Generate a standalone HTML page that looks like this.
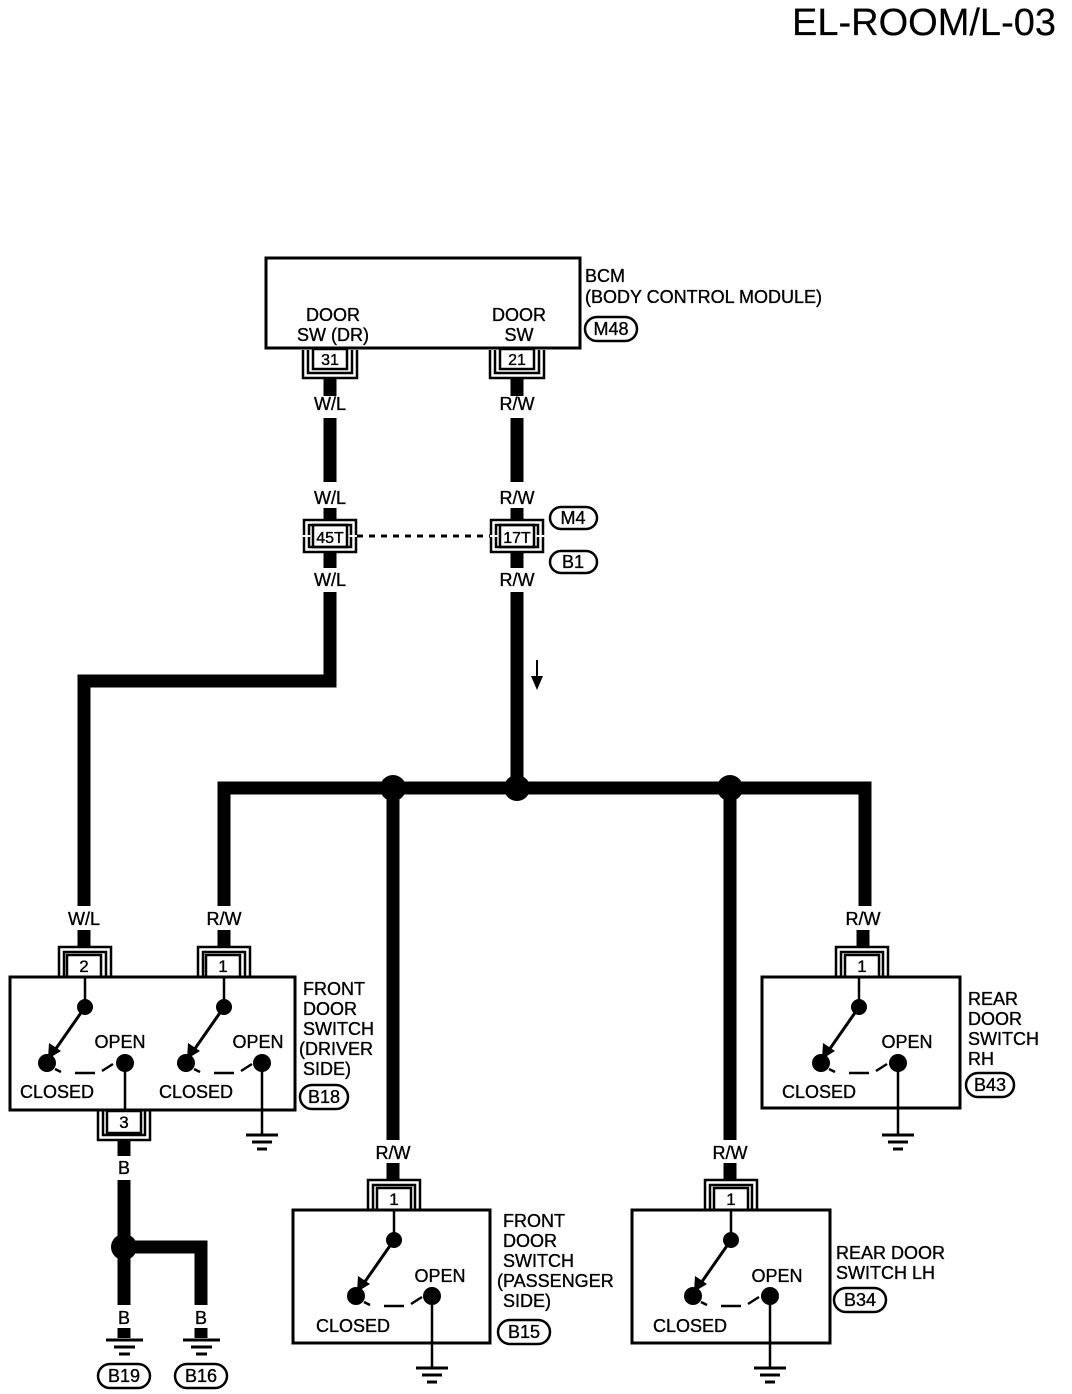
<!DOCTYPE html>
<html><head><style>
html,body{margin:0;padding:0;background:#fff;}
svg{display:block;}
text{font-family:"Liberation Sans",sans-serif;font-size:18px;fill:#000;stroke:#000;stroke-width:0.35;}
.c{text-anchor:middle;}
</style></head><body>
<svg width="1072" height="1394" viewBox="0 0 1072 1394" xmlns="http://www.w3.org/2000/svg">
<text x="1056" y="35" style="font-size:38px;stroke-width:0.2" text-anchor="end">EL-ROOM/L-03</text>

<!-- BCM -->
<rect x="266" y="258" width="314" height="90" fill="none" stroke="#000" stroke-width="3"/>
<text x="333" y="321" class="c">DOOR</text><text x="333" y="341" class="c">SW (DR)</text>
<text x="519" y="321" class="c">DOOR</text><text x="519" y="341" class="c">SW</text>
<text x="585" y="282">BCM</text><text x="585" y="303">(BODY CONTROL MODULE)</text>
<rect x="585" y="317" width="52" height="24" rx="12" fill="none" stroke="#000" stroke-width="2.5"/><text x="611" y="335" class="c">M48</text>

<g fill="none" stroke="#000">
<path d="M303 350 V378 H357 V350 M308 350 V373 H352 V350" stroke-width="2.5"/>
<rect x="313" y="349" width="34" height="20" stroke-width="2.5"/>
<path d="M490 350 V378 H544 V350 M495 350 V373 H539 V350" stroke-width="2.5"/>
<rect x="500" y="349" width="34" height="20" stroke-width="2.5"/>
<path d="M304 535 V520 H356 V535 M309 535 V525 H351 V535 M304 537 V552 H356 V537 M309 537 V547 H351 V537" stroke-width="2.5"/>
<rect x="313" y="525" width="34" height="22" stroke-width="2.5"/>
<path d="M491 535 V520 H543 V535 M496 535 V525 H538 V535 M491 537 V552 H543 V537 M496 537 V547 H538 V537" stroke-width="2.5"/>
<rect x="500" y="525" width="34" height="22" stroke-width="2.5"/>
<line x1="357" y1="536" x2="490" y2="536" stroke-width="3" stroke-dasharray="6,6"/>
</g>
<text x="330" y="365" class="c" style="font-size:16px">31</text>
<text x="517" y="365" class="c" style="font-size:16px">21</text>
<text x="330" y="543" class="c" style="font-size:16px">45T</text>
<text x="517" y="543" class="c" style="font-size:16px">17T</text>
<rect x="550" y="507" width="47" height="22" rx="11" fill="none" stroke="#000" stroke-width="2.5"/><text x="573" y="524" class="c">M4</text>
<rect x="550" y="551" width="47" height="22" rx="11" fill="none" stroke="#000" stroke-width="2.5"/><text x="573" y="568" class="c">B1</text>

<g fill="none" stroke="#000" stroke-width="13">
<path d="M330 378 V396 M330 418 V482 M330 508 V520 M330 552 V568 M330 592 V681 H84 V906 M84 930 V947"/>
<path d="M517 378 V396 M517 418 V482 M517 508 V520 M517 552 V568 M517 592 V788"/>
<path d="M224 906 V788 H865 V906 M224 930 V947 M863 930 V947"/>
<path d="M393 788 V1140 M393 1163 V1180"/>
<path d="M730 788 V1140 M730 1163 V1180"/>
<path d="M124 1140 V1156 M124 1180 V1305 M124 1247 H201 V1305 M124 1328 V1338 M201 1328 V1338"/>
</g>
<g fill="#000">
<circle cx="393" cy="788" r="13"/><circle cx="517" cy="788" r="13"/><circle cx="730" cy="788" r="13"/><circle cx="124" cy="1247" r="13"/>
<line x1="537" y1="660" x2="537" y2="680" stroke="#000" stroke-width="2"/>
<polygon points="531,676 543,676 537,690"/>
</g>
<text x="330" y="410" class="c">W/L</text><text x="330" y="504" class="c">W/L</text><text x="330" y="586" class="c">W/L</text>
<text x="517" y="410" class="c">R/W</text><text x="517" y="504" class="c">R/W</text><text x="517" y="586" class="c">R/W</text>
<text x="84" y="925" class="c">W/L</text><text x="224" y="925" class="c">R/W</text><text x="863" y="925" class="c">R/W</text>
<text x="393" y="1159" class="c">R/W</text><text x="730" y="1159" class="c">R/W</text>
<text x="124" y="1174" class="c">B</text><text x="124" y="1324" class="c">B</text><text x="201" y="1324" class="c">B</text>

<g stroke="#000" fill="none">
<path d="M106 1340 H143 M114 1347 H135 M119 1354 H130" stroke-width="3"/>
<path d="M183 1340 H220 M191 1347 H212 M196 1354 H207" stroke-width="3"/>
</g>
<rect x="98" y="1364" width="52" height="24" rx="12" fill="none" stroke="#000" stroke-width="2.5"/><text x="124" y="1382" class="c">B19</text>
<rect x="175" y="1364" width="52" height="24" rx="12" fill="none" stroke="#000" stroke-width="2.5"/><text x="201" y="1382" class="c">B16</text>

<!-- Driver box -->
<g fill="none" stroke="#000" stroke-width="2.5">
<rect x="10" y="977" width="285" height="133" stroke-width="3"/>
<path d="M59 977 V947 H111 V977 M64 977 V952 H106 V977"/><rect x="67" y="955" width="34" height="22"/>
<path d="M198 977 V947 H250 V977 M203 977 V952 H245 V977"/><rect x="206" y="955" width="34" height="22"/>
<path d="M98 1111 V1140 H150 V1111 M103 1111 V1135 H145 V1111"/><rect x="107" y="1111" width="34" height="22"/>
</g>
<text x="84" y="972" class="c" style="font-size:17px">2</text>
<text x="223" y="972" class="c" style="font-size:17px">1</text>
<text x="124" y="1128" class="c" style="font-size:17px">3</text>
<text x="303" y="995">FRONT</text><text x="303" y="1015">DOOR</text><text x="303" y="1035">SWITCH</text><text x="299" y="1055">(DRIVER</text><text x="303" y="1075">SIDE)</text>
<rect x="300" y="1085" width="48" height="24" rx="12" fill="none" stroke="#000" stroke-width="2.5"/><text x="324" y="1103" class="c">B18</text>

<g transform="translate(85,1007)">
<line x1="0" y1="-30" x2="0" y2="0" stroke="#000" stroke-width="2.5"/>
<circle r="8" fill="#000"/>
<line x1="0" y1="0" x2="-30" y2="43" stroke="#000" stroke-width="3"/>
<polygon points="-37,52 -36,36 -24,44" fill="#000"/>
<circle cx="-38" cy="56" r="9" fill="#000"/>
<path d="M-30 62 L-24 65 M-10 66 H10 M17 64 L28 57" stroke="#000" stroke-width="2.5" fill="none"/>
<circle cx="40" cy="56" r="9" fill="#000"/>
<line x1="40" y1="56" x2="40" y2="103" stroke="#000" stroke-width="2.5"/>
<text x="35" y="41" class="c">OPEN</text><text x="-28" y="91" class="c">CLOSED</text>
</g>
<g transform="translate(224,1007)">
<line x1="0" y1="-30" x2="0" y2="0" stroke="#000" stroke-width="2.5"/>
<circle r="8" fill="#000"/>
<line x1="0" y1="0" x2="-30" y2="43" stroke="#000" stroke-width="3"/>
<polygon points="-37,52 -36,36 -24,44" fill="#000"/>
<circle cx="-38" cy="56" r="9" fill="#000"/>
<path d="M-30 62 L-24 65 M-10 66 H10 M17 64 L28 57" stroke="#000" stroke-width="2.5" fill="none"/>
<circle cx="38" cy="56" r="9" fill="#000"/>
<line x1="38" y1="56" x2="38" y2="128" stroke="#000" stroke-width="2.5"/>
<path d="M22 128 H54 M28 135 H48 M33 142 H43" stroke="#000" stroke-width="3"/>
<text x="34" y="41" class="c">OPEN</text><text x="-28" y="91" class="c">CLOSED</text>
</g>

<!-- Rear RH -->
<g fill="none" stroke="#000" stroke-width="2.5">
<rect x="762" y="977" width="198" height="131" stroke-width="3"/>
<path d="M836 977 V947 H888 V977 M841 977 V952 H883 V977"/><rect x="845" y="955" width="34" height="22"/>
</g>
<text x="862" y="972" class="c" style="font-size:17px">1</text>
<text x="968" y="1005">REAR</text><text x="968" y="1025">DOOR</text><text x="968" y="1045">SWITCH</text><text x="968" y="1065">RH</text>
<rect x="966" y="1073" width="48" height="24" rx="12" fill="none" stroke="#000" stroke-width="2.5"/><text x="990" y="1091" class="c">B43</text>
<g transform="translate(859,1007)">
<line x1="0" y1="-30" x2="0" y2="0" stroke="#000" stroke-width="2.5"/>
<circle r="8" fill="#000"/>
<line x1="0" y1="0" x2="-30" y2="43" stroke="#000" stroke-width="3"/>
<polygon points="-37,52 -36,36 -24,44" fill="#000"/>
<circle cx="-38" cy="56" r="9" fill="#000"/>
<path d="M-30 62 L-24 65 M-10 66 H10 M17 64 L28 57" stroke="#000" stroke-width="2.5" fill="none"/>
<circle cx="39" cy="56" r="9" fill="#000"/>
<line x1="39" y1="56" x2="39" y2="128" stroke="#000" stroke-width="2.5"/>
<path d="M23 128 H55 M29 135 H49 M34 142 H44" stroke="#000" stroke-width="3"/>
<text x="48" y="41" class="c">OPEN</text><text x="-40" y="91" class="c">CLOSED</text>
</g>

<!-- Passenger -->
<g fill="none" stroke="#000" stroke-width="2.5">
<rect x="293" y="1210" width="197" height="133" stroke-width="3"/>
<path d="M368 1210 V1180 H420 V1210 M373 1210 V1185 H415 V1210"/><rect x="377" y="1188" width="34" height="22"/>
</g>
<text x="394" y="1205" class="c" style="font-size:17px">1</text>
<text x="503" y="1227">FRONT</text><text x="503" y="1247">DOOR</text><text x="503" y="1267">SWITCH</text><text x="497" y="1287">(PASSENGER</text><text x="503" y="1307">SIDE)</text>
<rect x="498" y="1320" width="52" height="24" rx="12" fill="none" stroke="#000" stroke-width="2.5"/><text x="524" y="1338" class="c">B15</text>
<g transform="translate(394,1240)">
<line x1="0" y1="-30" x2="0" y2="0" stroke="#000" stroke-width="2.5"/>
<circle r="8" fill="#000"/>
<line x1="0" y1="0" x2="-30" y2="43" stroke="#000" stroke-width="3"/>
<polygon points="-37,52 -36,36 -24,44" fill="#000"/>
<circle cx="-38" cy="56" r="9" fill="#000"/>
<path d="M-30 62 L-24 65 M-10 66 H10 M17 64 L28 57" stroke="#000" stroke-width="2.5" fill="none"/>
<circle cx="38" cy="56" r="9" fill="#000"/>
<line x1="38" y1="56" x2="38" y2="128" stroke="#000" stroke-width="2.5"/>
<path d="M22 128 H54 M28 135 H48 M33 142 H43" stroke="#000" stroke-width="3"/>
<text x="46" y="42" class="c">OPEN</text><text x="-41" y="92" class="c">CLOSED</text>
</g>

<!-- Rear LH -->
<g fill="none" stroke="#000" stroke-width="2.5">
<rect x="632" y="1210" width="198" height="133" stroke-width="3"/>
<path d="M705 1210 V1180 H757 V1210 M710 1210 V1185 H752 V1210"/><rect x="714" y="1188" width="34" height="22"/>
</g>
<text x="731" y="1205" class="c" style="font-size:17px">1</text>
<text x="836" y="1259">REAR DOOR</text><text x="836" y="1279">SWITCH LH</text>
<rect x="834" y="1288" width="52" height="24" rx="12" fill="none" stroke="#000" stroke-width="2.5"/><text x="860" y="1306" class="c">B34</text>
<g transform="translate(731,1240)">
<line x1="0" y1="-30" x2="0" y2="0" stroke="#000" stroke-width="2.5"/>
<circle r="8" fill="#000"/>
<line x1="0" y1="0" x2="-30" y2="43" stroke="#000" stroke-width="3"/>
<polygon points="-37,52 -36,36 -24,44" fill="#000"/>
<circle cx="-38" cy="56" r="9" fill="#000"/>
<path d="M-30 62 L-24 65 M-10 66 H10 M17 64 L28 57" stroke="#000" stroke-width="2.5" fill="none"/>
<circle cx="39" cy="56" r="9" fill="#000"/>
<line x1="39" y1="56" x2="39" y2="128" stroke="#000" stroke-width="2.5"/>
<path d="M23 128 H55 M29 135 H49 M34 142 H44" stroke="#000" stroke-width="3"/>
<text x="46" y="42" class="c">OPEN</text><text x="-41" y="92" class="c">CLOSED</text>
</g>
</svg>
</body></html>
